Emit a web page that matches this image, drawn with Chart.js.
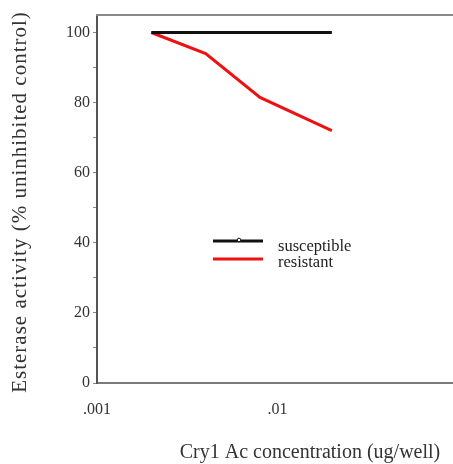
<!DOCTYPE html>
<html><head><meta charset="utf-8">
<script src="https://cdn.jsdelivr.net/npm/chart.js@4/dist/chart.umd.min.js"></script>
<style>
html,body{margin:0;padding:0;background:#fff;overflow:hidden;width:453px;height:464px;}
#wrap{position:relative;width:481px;height:464px;}
</style></head><body>
<div id="wrap"><canvas id="c"></canvas></div>
<script>
const concentrations = [0.002, 0.004, 0.008, 0.02];
const susceptible = [100, 100, 100, 100];
const resistant = [100, 94, 81.5, 72];
const xTickValues = [0.001, 0.01, 0.1];
const xTickLabels = ['.001', '.01', '.1'];
const yTickValues = [0, 10, 20, 30, 40, 50, 60, 70, 80, 90, 100];
const seriesNames = ['susceptible', 'resistant'];
const xTitle = 'Cry1 Ac concentration (ug/well)';
const yTitle = 'Esterase activity (% uninhibited control)';

const FONT = '"Liberation Serif", "Times New Roman", serif';

const decor = {
  id: 'decor',
  afterDraw(chart) {
    const ctx = chart.ctx, a = chart.chartArea;
    ctx.save();
    // top frame line
    ctx.strokeStyle = '#8a8a8a';
    ctx.lineWidth = 2;
    ctx.beginPath();
    ctx.moveTo(a.left - 1, a.top);
    ctx.lineTo(chart.width, a.top);
    ctx.stroke();
    // axis titles
    ctx.fillStyle = '#333';
    ctx.font = '20px ' + FONT;
    ctx.textAlign = 'center';
    ctx.textBaseline = 'middle';
    ctx.fillText(xTitle, 310, 453);
    ctx.save();
    ctx.translate(20, 202);
    ctx.rotate(-Math.PI / 2);
    ctx.font = '21px ' + FONT;
    ctx.letterSpacing = '1px';
    ctx.fillText(yTitle, 0, 0);
    ctx.restore();
    // legend
    const lx = a.left + 116, ly = 241, gap = 18;
    chart.data.datasets.forEach((ds, i) => {
      const y = ly + i * gap;
      ctx.strokeStyle = ds.borderColor;
      ctx.lineWidth = 3;
      ctx.beginPath();
      ctx.moveTo(lx, y);
      ctx.lineTo(lx + 50, y);
      ctx.stroke();
      if (i === 0) {
        ctx.fillStyle = '#fff';
        ctx.lineWidth = 1;
        ctx.beginPath();
        ctx.arc(lx + 26, y - 1, 1.8, 0, Math.PI * 2);
        ctx.fill();
        ctx.stroke();
      }
      ctx.fillStyle = '#222';
      ctx.font = '16.5px ' + FONT;
      ctx.textAlign = 'left';
      ctx.textBaseline = 'middle';
      ctx.fillText(ds.label, lx + 65, y + 6 - i * 2);
    });
    ctx.restore();
  }
};

new Chart(document.getElementById('c'), {
  type: 'line',
  data: {
    labels: concentrations,
    datasets: [
      { label: seriesNames[0], data: concentrations.map((x, i) => ({x, y: susceptible[i]})),
        borderColor: '#111111', borderWidth: 3, pointRadius: 0, tension: 0, fill: false },
      { label: seriesNames[1], data: concentrations.map((x, i) => ({x, y: resistant[i]})),
        borderColor: '#ee1111', borderWidth: 3, pointRadius: 0, tension: 0, fill: false }
    ]
  },
  options: {
    responsive: true,
    maintainAspectRatio: false,
    animation: false,
    devicePixelRatio: 1,
    layout: { padding: { top: 15, left: 0, right: 0, bottom: 0 } },
    plugins: { legend: { display: false }, tooltip: { enabled: false } },
    scales: {
      x: {
        type: 'logarithmic',
        min: 0.001, max: 0.1,
        afterBuildTicks: s => { s.ticks = xTickValues.map(v => ({ value: v })); },
        afterFit: s => { s.height = 81; },
        ticks: {
          autoSkip: false, maxRotation: 0, padding: 17,
          color: '#333', font: { family: FONT, size: 16 },
          callback: v => xTickLabels[xTickValues.indexOf(v)]
        },
        grid: { drawOnChartArea: false, drawTicks: false },
        border: { color: '#7a7a7a', width: 2 }
      },
      y: {
        min: 0, max: 105,
        afterBuildTicks: s => { s.ticks = yTickValues.map(v => ({ value: v })); },
        afterFit: s => { s.width = 97; },
        ticks: {
          autoSkip: false, padding: 3,
          color: '#333', font: { family: FONT, size: 16 },
          callback: v => (v % 20 === 0 ? String(v) : '')
        },
        grid: { drawOnChartArea: false, drawTicks: true, tickLength: 4, color: '#888' },
        border: { color: '#555', width: 2 }
      }
    }
  },
  plugins: [decor]
});
</script>
</body></html>
